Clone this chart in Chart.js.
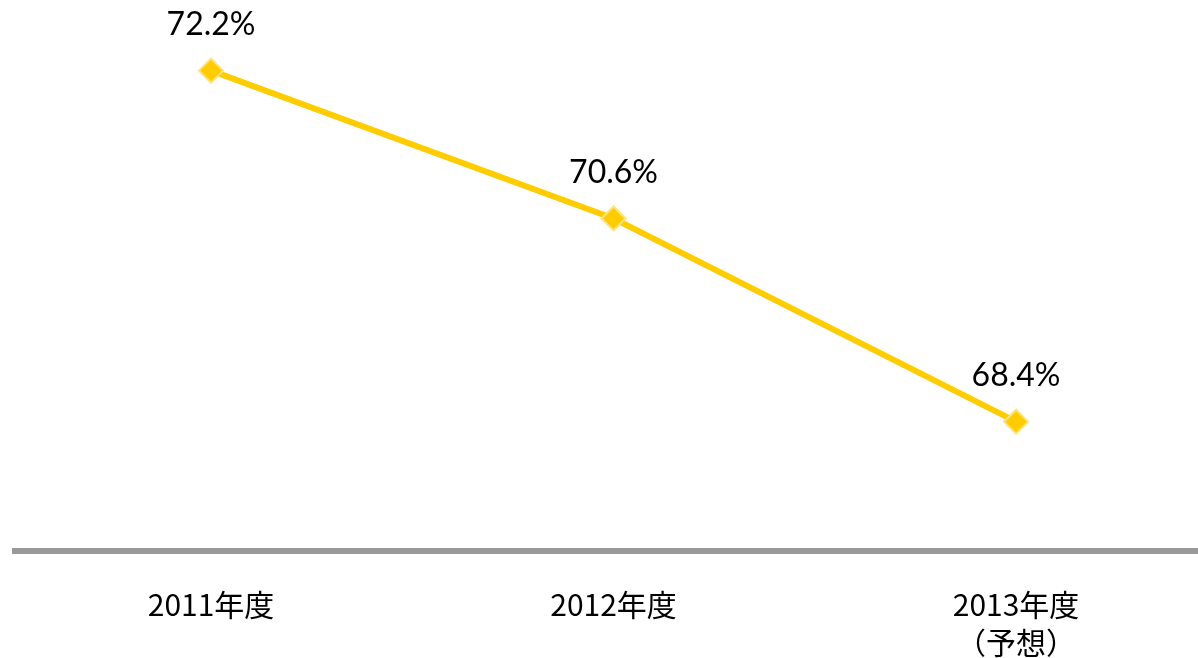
<!DOCTYPE html>
<html>
<head>
<meta charset="utf-8">
<script src="https://cdn.jsdelivr.net/npm/chart.js@4/dist/chart.umd.min.js"></script>
<style>
  html, body { margin: 0; padding: 0; background: #fff; }
  #wrap { width: 1198px; height: 658px; }
</style>
</head>
<body>
<div id="wrap"><canvas id="rateChart"></canvas></div>
<script>
const categories = [["2011年度"], ["2012年度"], ["2013年度", "（予想）"]];
const rates = [72.2, 70.6, 68.4];
const valueLabels = ["72.2%", "70.6%", "68.4%"];

const pointLabels = {
    id: "pointLabels",
    afterDatasetsDraw(chart) {
        const ctx = chart.ctx;
        const meta = chart.getDatasetMeta(0);
        ctx.save();
        ctx.font = "32px Lato, sans-serif";
        ctx.fillStyle = "#000";
        ctx.textAlign = "center";
        ctx.textBaseline = "middle";
        meta.data.forEach((pt, i) => {
            ctx.fillText(valueLabels[i], pt.x, pt.y - 46);
        });
        ctx.restore();
    }
};

const chartCanvas = document.getElementById("rateChart").getContext("2d");

new Chart(chartCanvas, {
    type: "line",
    data: {
        datasets: [{
            data: rates.map((v, i) => ({ x: i, y: v })),
            borderColor: "#FFCC00",
            borderWidth: 6,
            pointStyle: "rectRot",
            pointRadius: 12,
            pointBackgroundColor: "#FFCC00",
            pointBorderColor: "#FFE27A",
            pointBorderWidth: 2,
            tension: 0
        }]
    },
    options: {
        responsive: true,
        maintainAspectRatio: false,
        animation: false,
        layout: { autoPadding: false, padding: { left: 15, right: 0, top: 0, bottom: 0 } },
        plugins: {
            legend: { display: false },
            tooltip: { enabled: false }
        },
        scales: {
            x: {
                type: "linear",
                min: -0.487,
                max: 2.452,
                afterBuildTicks: scale => {
                    scale.ticks = categories.map((_, i) => ({ value: i }));
                },
                afterFit: scale => {
                    scale.height = 107;
                    scale.paddingLeft = 0;
                    scale.paddingRight = 0;
                    scale.paddingTop = 0;
                    scale.paddingBottom = 0;
                },
                grid: { display: false, drawTicks: false },
                border: { display: true, color: "#999999", width: 6 },
                ticks: {
                    autoSkip: false,
                    maxRotation: 0,
                    padding: 35,
                    color: "#000",
                    font: { family: "'Noto Sans CJK JP', sans-serif", size: 30, lineHeight: 1.25 },
                    callback: v => categories[v]
                }
            },
            y: {
                display: false,
                min: 67,
                max: 72.965
            }
        }
    },
    plugins: [pointLabels]
});
</script>
</body>
</html>
